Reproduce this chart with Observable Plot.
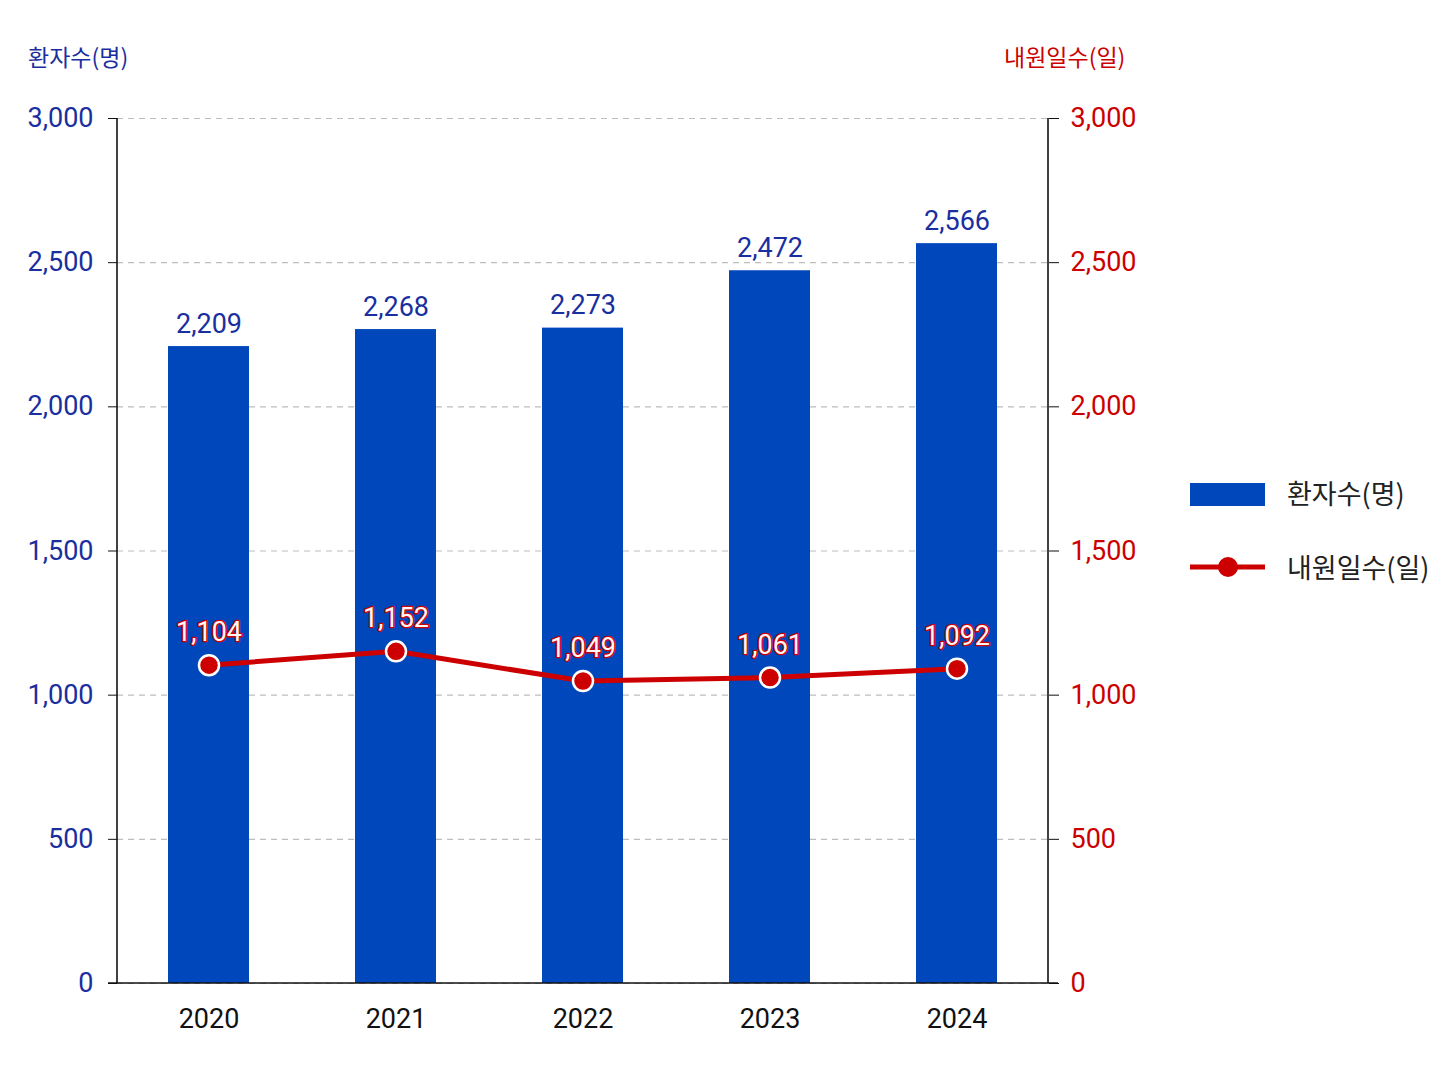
<!DOCTYPE html>
<html>
<head>
<meta charset="utf-8">
<script src="https://cdn.jsdelivr.net/npm/d3@7"></script>
<script src="https://cdn.jsdelivr.net/npm/@observablehq/plot@0.6"></script>
<style>
  html, body { margin: 0; padding: 0; background: #fff; }
  #wrap { position: relative; width: 1448px; height: 1086px; background: #fff; font-family: Roboto, "Noto Sans CJK KR", sans-serif; }
  .ttl { position: absolute; font-family: "Noto Sans CJK KR", Roboto, sans-serif; font-size: 23px; line-height: 1; white-space: nowrap; }
  .leg { position: absolute; font-family: "Noto Sans CJK KR", Roboto, sans-serif; font-size: 27px; color: #222; line-height: 1; white-space: nowrap; }
</style>
</head>
<body>
<div id="wrap"></div>
<script>
const years = ["2020", "2021", "2022", "2023", "2024"];
const patients = [2209, 2268, 2273, 2472, 2566];
const visitDays = [1104, 1152, 1049, 1061, 1092];
const yTicks = [0, 500, 1000, 1500, 2000, 2500, 3000];
const leftTitle = "환자수(명)";
const rightTitle = "내원일수(일)";

const BLUE = "#0047bb";
const BLUE_TXT = "#1a2f9f";
const RED = "#cc0000";

const rows = years.map((y, i) => ({year: y, patients: patients[i], days: visitDays[i]}));
const fmt = d3.format(",");

const W = 1448, H = 1086;
const mL = 117, mR = 400, mT = 118, mB = 103;

const chart = Plot.plot({
  width: W,
  height: H,
  marginLeft: mL,
  marginRight: mR,
  marginTop: mT,
  marginBottom: mB,
  style: {fontFamily: "Roboto, sans-serif", background: "transparent", overflow: "visible"},
  x: {domain: years, padding: 0.568, paddingOuter: 0.267, align: 0.5},
  y: {domain: [0, 3000]},
  marks: [
    Plot.gridY(yTicks, {stroke: "#bdbdbd", strokeOpacity: 1, strokeWidth: 1.2, strokeDasharray: "6,5"}),
    Plot.barY(rows, {x: "year", y: "patients", fill: BLUE}),
    Plot.axisY(yTicks, {anchor: "left", tickSize: 9, tickPadding: 15, tickFormat: fmt, fontSize: 27, color: BLUE_TXT, label: null, stroke: "#111"}),
    Plot.axisY(yTicks, {anchor: "right", tickSize: 10, tickPadding: 12, tickFormat: fmt, fontSize: 27, color: RED, label: null, stroke: "#111"}),
    Plot.axisX({anchor: "bottom", tickSize: 0, tickPadding: 25, fontSize: 27, color: "#111", label: null}),
    Plot.text(rows, {x: "year", y: "patients", text: d => fmt(d.patients), dy: -14, lineAnchor: "bottom", fontSize: 27, fill: BLUE_TXT}),
    Plot.line(rows, {x: "year", y: "days", stroke: RED, strokeWidth: 5}),
    Plot.dot(rows, {x: "year", y: "days", r: 10, fill: RED, stroke: "#fff", strokeWidth: 2.5}),
    Plot.text(rows, {x: "year", y: "days", text: d => fmt(d.days), dy: -24, lineAnchor: "bottom", fontSize: 27, fill: "#fff6f6", stroke: RED, strokeWidth: 2.6, paintOrder: "stroke"})
  ]
});

// axis lines derived from the scales
const ys = chart.scale("y");
const y0 = ys.apply(0), y1 = ys.apply(3000);
const svg = d3.select(chart);
const g = svg.append("g").attr("stroke", "#111").attr("stroke-width", 1.6);
g.append("line").attr("x1", mL).attr("x2", mL).attr("y1", y1).attr("y2", y0);
g.append("line").attr("x1", W - mR).attr("x2", W - mR).attr("y1", y1).attr("y2", y0);
g.append("line").attr("x1", mL - 9).attr("x2", W - mR + 10).attr("y1", y0).attr("y2", y0);

const wrap = document.getElementById("wrap");
wrap.appendChild(chart);
chart.style.position = "absolute";
chart.style.left = "0px";
chart.style.top = "0px";

function addDiv(cls, text, left, top, color) {
  const d = document.createElement("div");
  d.className = cls;
  d.textContent = text;
  d.style.left = left + "px";
  d.style.top = top + "px";
  if (color) d.style.color = color;
  wrap.appendChild(d);
  return d;
}
addDiv("ttl", leftTitle, 28, 45, BLUE_TXT);
addDiv("ttl", rightTitle, 1004, 45, RED);

// legend
const leg1 = document.createElement("div");
leg1.style.cssText = `position:absolute;left:1190px;top:483px;width:75px;height:23px;background:${BLUE};`;
wrap.appendChild(leg1);
addDiv("leg", leftTitle, 1287, 479);

const legSvg = d3.create("svg").attr("width", 80).attr("height", 30)
  .style("position", "absolute").style("left", "1188px").style("top", "552px");
legSvg.append("line").attr("x1", 2).attr("x2", 77).attr("y1", 15).attr("y2", 15).attr("stroke", RED).attr("stroke-width", 5);
legSvg.append("circle").attr("cx", 40).attr("cy", 15).attr("r", 10).attr("fill", RED);
wrap.appendChild(legSvg.node());
addDiv("leg", rightTitle, 1287, 553);
</script>
</body>
</html>
